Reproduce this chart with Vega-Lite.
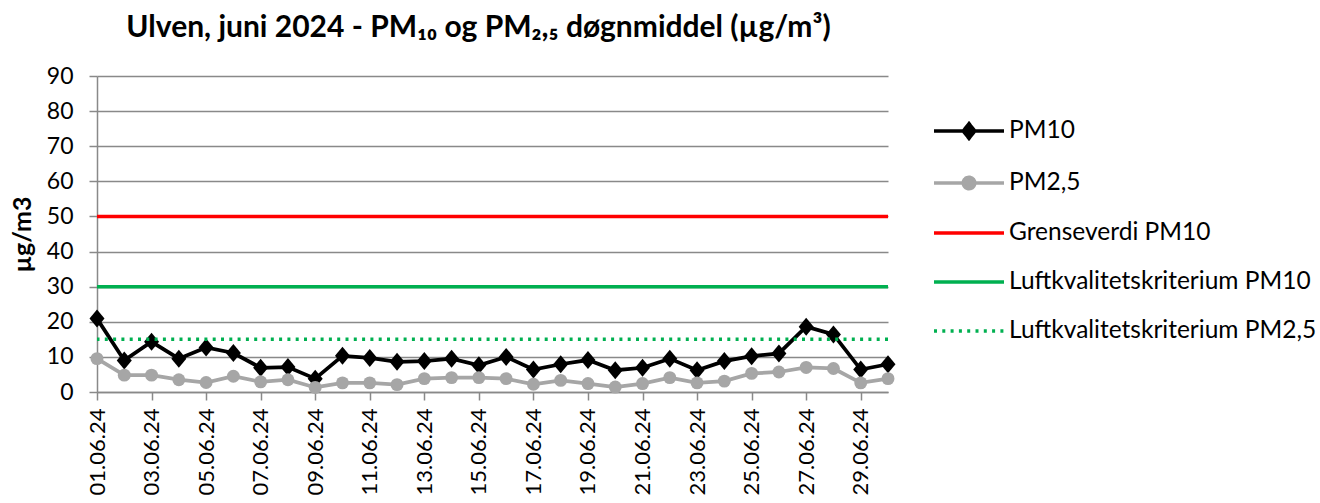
{
  "$schema": "https://vega.github.io/schema/vega-lite/v6.json",
  "width": 791,
  "height": 316,
  "autosize": {"type": "none"},
  "padding": {"left": 97, "top": 76, "right": 432, "bottom": 111},
  "background": "white",
  "config": {"font": "Lato", "view": {"stroke": null}},
  "title": {
    "text": "Ulven, juni 2024 - PM₁₀ og PM₂,₅  døgnmiddel (µg/m³)",
    "font": "Lato", "fontSize": 30, "fontWeight": "bold", "color": "#000000",
    "anchor": "middle", "frame": "group", "dx": -14, "baseline": "alphabetic", "offset": -1.5
  },
  "datasets": {
    "daily": [
      {"date": "01.06.24", "series": "PM10", "value": 20.9},
      {"date": "02.06.24", "series": "PM10", "value": 9.0},
      {"date": "03.06.24", "series": "PM10", "value": 14.3},
      {"date": "04.06.24", "series": "PM10", "value": 9.5},
      {"date": "05.06.24", "series": "PM10", "value": 12.7},
      {"date": "06.06.24", "series": "PM10", "value": 11.1},
      {"date": "07.06.24", "series": "PM10", "value": 6.9},
      {"date": "08.06.24", "series": "PM10", "value": 7.1},
      {"date": "09.06.24", "series": "PM10", "value": 3.8},
      {"date": "10.06.24", "series": "PM10", "value": 10.3},
      {"date": "11.06.24", "series": "PM10", "value": 9.7},
      {"date": "12.06.24", "series": "PM10", "value": 8.6},
      {"date": "13.06.24", "series": "PM10", "value": 8.8},
      {"date": "14.06.24", "series": "PM10", "value": 9.5},
      {"date": "15.06.24", "series": "PM10", "value": 7.6},
      {"date": "16.06.24", "series": "PM10", "value": 10.0},
      {"date": "17.06.24", "series": "PM10", "value": 6.4},
      {"date": "18.06.24", "series": "PM10", "value": 7.9},
      {"date": "19.06.24", "series": "PM10", "value": 9.1},
      {"date": "20.06.24", "series": "PM10", "value": 6.2},
      {"date": "21.06.24", "series": "PM10", "value": 6.9},
      {"date": "22.06.24", "series": "PM10", "value": 9.5},
      {"date": "23.06.24", "series": "PM10", "value": 6.2},
      {"date": "24.06.24", "series": "PM10", "value": 8.8},
      {"date": "25.06.24", "series": "PM10", "value": 10.2},
      {"date": "26.06.24", "series": "PM10", "value": 11.0},
      {"date": "27.06.24", "series": "PM10", "value": 18.6},
      {"date": "28.06.24", "series": "PM10", "value": 16.4},
      {"date": "29.06.24", "series": "PM10", "value": 6.4},
      {"date": "30.06.24", "series": "PM10", "value": 7.9},
      {"date": "01.06.24", "series": "PM2,5", "value": 9.5},
      {"date": "02.06.24", "series": "PM2,5", "value": 4.8},
      {"date": "03.06.24", "series": "PM2,5", "value": 4.8},
      {"date": "04.06.24", "series": "PM2,5", "value": 3.5},
      {"date": "05.06.24", "series": "PM2,5", "value": 2.7},
      {"date": "06.06.24", "series": "PM2,5", "value": 4.5},
      {"date": "07.06.24", "series": "PM2,5", "value": 2.9},
      {"date": "08.06.24", "series": "PM2,5", "value": 3.5},
      {"date": "09.06.24", "series": "PM2,5", "value": 1.3},
      {"date": "10.06.24", "series": "PM2,5", "value": 2.6},
      {"date": "11.06.24", "series": "PM2,5", "value": 2.6},
      {"date": "12.06.24", "series": "PM2,5", "value": 2.1},
      {"date": "13.06.24", "series": "PM2,5", "value": 3.8},
      {"date": "14.06.24", "series": "PM2,5", "value": 4.1},
      {"date": "15.06.24", "series": "PM2,5", "value": 4.1},
      {"date": "16.06.24", "series": "PM2,5", "value": 3.8},
      {"date": "17.06.24", "series": "PM2,5", "value": 2.2},
      {"date": "18.06.24", "series": "PM2,5", "value": 3.3},
      {"date": "19.06.24", "series": "PM2,5", "value": 2.4},
      {"date": "20.06.24", "series": "PM2,5", "value": 1.4},
      {"date": "21.06.24", "series": "PM2,5", "value": 2.4},
      {"date": "22.06.24", "series": "PM2,5", "value": 4.1},
      {"date": "23.06.24", "series": "PM2,5", "value": 2.6},
      {"date": "24.06.24", "series": "PM2,5", "value": 3.1},
      {"date": "25.06.24", "series": "PM2,5", "value": 5.3},
      {"date": "26.06.24", "series": "PM2,5", "value": 5.7},
      {"date": "27.06.24", "series": "PM2,5", "value": 7.0},
      {"date": "28.06.24", "series": "PM2,5", "value": 6.7},
      {"date": "29.06.24", "series": "PM2,5", "value": 2.6},
      {"date": "30.06.24", "series": "PM2,5", "value": 3.8}
    ],
    "limits": [
      {"series": "Grenseverdi PM10", "value": 50},
      {"series": "Luftkvalitetskriterium PM10", "value": 30},
      {"series": "Luftkvalitetskriterium PM2,5", "value": 15}
    ],
    "legendItems": [
      {"series": "PM10"},
      {"series": "PM2,5"},
      {"series": "Grenseverdi PM10"},
      {"series": "Luftkvalitetskriterium PM10"},
      {"series": "Luftkvalitetskriterium PM2,5"}
    ]
  },
  "encoding": {
    "y": {
      "field": "value", "type": "quantitative",
      "scale": {"domain": [0, 90], "nice": false, "zero": true},
      "axis": {
        "title": "µg/m3", "titleFont": "Lato", "titleFontSize": 25, "titleFontWeight": "bold", "titleColor": "#000000",
        "titleX": -75, "titleY": 158, "titleAngle": 270, "titleAlign": "center", "titleBaseline": "middle",
        "values": [0,10,20,30,40,50,60,70,80,90],
        "labelFont": "Lato", "labelFontSize": 23, "labelColor": "#000000", "labelPadding": 16, "labelOverlap": false,
        "tickSize": 8, "tickColor": "#898989", "tickWidth": 1.5,
        "domainColor": "#898989", "domainWidth": 1.5,
        "grid": true, "gridColor": "#898989", "gridWidth": 1.5
      }
    }
  },
  "layer": [
    {
      "data": {"name": "daily"},
      "transform": [{"filter": "datum.series === 'PM10'"}],
      "mark": {"type": "line", "color": "#000000", "strokeWidth": 3.75},
      "encoding": {
        "x": {
          "field": "date", "type": "ordinal", "sort": null,
          "scale": {"type": "point", "padding": 0},
          "axis": {
            "title": null,
            "values": ["01.06.24","03.06.24","05.06.24","07.06.24","09.06.24","11.06.24","13.06.24","15.06.24","17.06.24","19.06.24","21.06.24","23.06.24","25.06.24","27.06.24","29.06.24"],
            "labelAngle": -90, "labelFont": "Lato", "labelFontSize": 22, "labelColor": "#000000",
            "labelPadding": 8, "labelOverlap": false,
            "tickSize": 8, "tickColor": "#898989", "tickWidth": 1.5,
            "domainColor": "#898989", "domainWidth": 1.5, "grid": false
          }
        }
      }
    },
    {
      "data": {"name": "daily"},
      "transform": [{"filter": "datum.series === 'PM10'"}],
      "mark": {"type": "point", "filled": true, "color": "#000000", "opacity": 1, "size": 225, "shape": "M0,-1.2L1,0L0,1.2L-1,0Z"},
      "encoding": {
        "x": {"field": "date", "type": "ordinal", "sort": null}
      }
    },
    {
      "data": {"name": "daily"},
      "transform": [{"filter": "datum.series === 'PM2,5'"}],
      "mark": {"type": "line", "color": "#a6a6a6", "strokeWidth": 3.75},
      "encoding": {
        "x": {"field": "date", "type": "ordinal", "sort": null}
      }
    },
    {
      "data": {"name": "daily"},
      "transform": [{"filter": "datum.series === 'PM2,5'"}],
      "mark": {"type": "point", "filled": true, "color": "#a6a6a6", "opacity": 1, "size": 167, "shape": "circle"},
      "encoding": {
        "x": {"field": "date", "type": "ordinal", "sort": null}
      }
    },
    {
      "data": {"name": "limits"},
      "transform": [{"filter": "datum.series === 'Grenseverdi PM10'"}],
      "mark": {"type": "rule", "strokeWidth": 3.5, "color": "#ff0000"},
      "encoding": {}
    },
    {
      "data": {"name": "limits"},
      "transform": [{"filter": "datum.series === 'Luftkvalitetskriterium PM10'"}],
      "mark": {"type": "rule", "strokeWidth": 3.5, "color": "#00b050"},
      "encoding": {}
    },
    {
      "data": {"name": "limits"},
      "transform": [{"filter": "datum.series === 'Luftkvalitetskriterium PM2,5'"}],
      "mark": {"type": "rule", "strokeWidth": 3.5, "color": "#00b050", "strokeDash": [3, 5.3]},
      "encoding": {}
    },
    {
      "data": {"name": "legendItems"},
      "mark": {"type": "point", "filled": true, "opacity": 0, "strokeWidth": 3.5},
      "encoding": {
        "y": null,
        "fill": {
          "field": "series", "type": "nominal",
          "scale": {"domain": ["PM10","PM2,5","Grenseverdi PM10","Luftkvalitetskriterium PM10","Luftkvalitetskriterium PM2,5"], "range": ["#000000","#a6a6a6","#ff0000","#00b050","#00b050"]},
          "legend": {"title": null, "orient": "none", "legendX": 835, "legendY": 18, "padding": 0, "labelFont": "Lato", "labelFontSize": 24.5, "labelColor": "#000000", "labelLimit": 500, "labelOffset": 3, "symbolSize": 4900, "symbolStrokeWidth": 3.5, "symbolOpacity": 1, "rowPadding": -3.1}
        },
        "stroke": {
          "field": "series", "type": "nominal",
          "scale": {"domain": ["PM10","PM2,5","Grenseverdi PM10","Luftkvalitetskriterium PM10","Luftkvalitetskriterium PM2,5"], "range": ["#000000","#a6a6a6","#ff0000","#00b050","#00b050"]},
          "legend": {"title": null, "orient": "none", "legendX": 835, "legendY": 18, "padding": 0, "labelFont": "Lato", "labelFontSize": 24.5, "labelColor": "#000000", "labelLimit": 500, "labelOffset": 3, "symbolSize": 4900, "symbolStrokeWidth": 3.5, "symbolOpacity": 1, "rowPadding": -3.1}
        },
        "shape": {
          "field": "series", "type": "nominal",
          "scale": {"domain": ["PM10","PM2,5","Grenseverdi PM10","Luftkvalitetskriterium PM10","Luftkvalitetskriterium PM2,5"], "range": ["M-1,0H1M0,-0.21L0.165,0L0,0.21L-0.165,0Z", "M-1,0H1M-0.164,0A0.164,0.164,0,1,0,0.164,0A0.164,0.164,0,1,0,-0.164,0Z", "M-1,0H1", "M-1,0H1", "M-1,0H1"]},
          "legend": {"title": null, "orient": "none", "legendX": 835, "legendY": 18, "padding": 0, "labelFont": "Lato", "labelFontSize": 24.5, "labelColor": "#000000", "labelLimit": 500, "labelOffset": 3, "symbolSize": 4900, "symbolStrokeWidth": 3.5, "symbolOpacity": 1, "rowPadding": -3.1}
        },
        "strokeDash": {
          "field": "series", "type": "nominal",
          "scale": {"domain": ["PM10","PM2,5","Grenseverdi PM10","Luftkvalitetskriterium PM10","Luftkvalitetskriterium PM2,5"], "range": [[1,0],[1,0],[1,0],[1,0],[3,5.3]]},
          "legend": {"title": null, "orient": "none", "legendX": 835, "legendY": 18, "padding": 0, "labelFont": "Lato", "labelFontSize": 24.5, "labelColor": "#000000", "labelLimit": 500, "labelOffset": 3, "symbolSize": 4900, "symbolStrokeWidth": 3.5, "symbolOpacity": 1, "rowPadding": -3.1}
        }
      }
    }
  ]
}
